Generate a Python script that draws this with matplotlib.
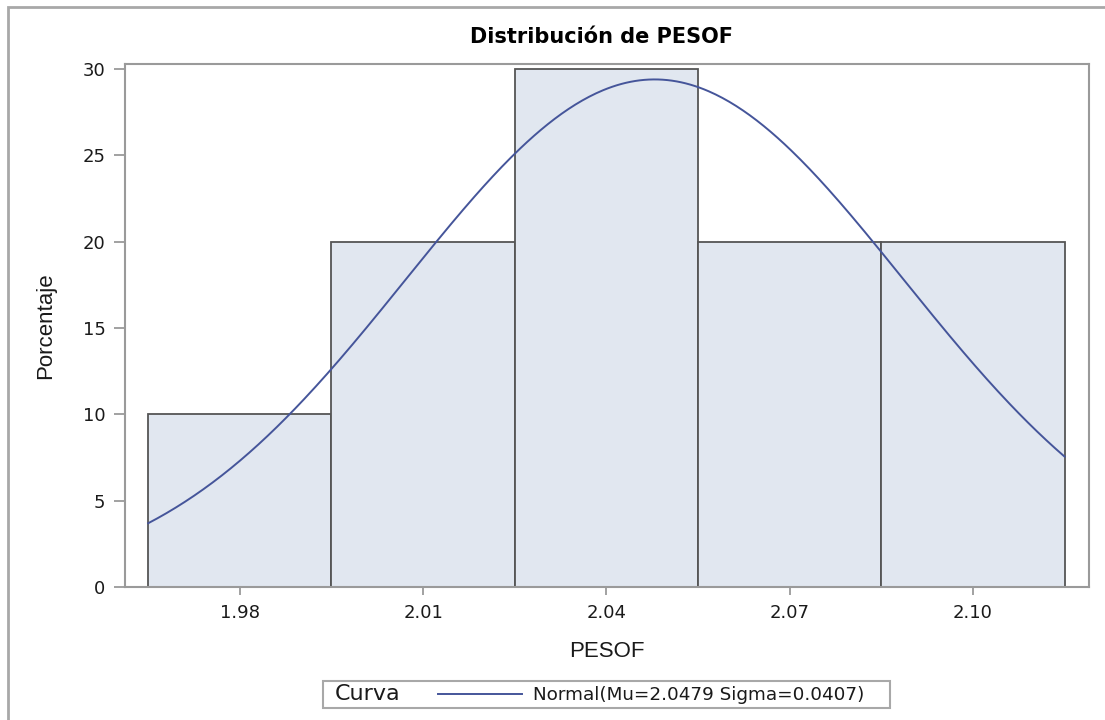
import numpy as np
import matplotlib
matplotlib.use("Agg")
import matplotlib.pyplot as plt
from matplotlib.patches import Rectangle
from matplotlib.lines import Line2D

plt.rcParams['font.family'] = ['DejaVu Sans']

# histogram of PESOF (percent per bin)
bin_mids = [1.98, 2.01, 2.04, 2.07, 2.10]
pct = [10, 20, 30, 20, 20]
bin_w = 0.03
x_ticks = [1.98, 2.01, 2.04, 2.07, 2.10]
y_ticks = [0, 5, 10, 15, 20, 25, 30]

# fitted normal
mu = 2.0479
sigma = 0.0407

W, H = 1105, 720
fig = plt.figure(figsize=(W / 100, H / 100), dpi=100)
ax = fig.add_axes([125 / W, 1 - 587 / H, (1089 - 125) / W, (587 - 64) / H])

fill = '#E1E7F0'
edge = '#555555'
curve_col = '#45559A'
frame = '#9A9A9A'
txt = '#1A1A1A'

ax.bar(bin_mids, pct, width=bin_w, color=fill, edgecolor=edge, linewidth=1.3, zorder=2)

xs = np.linspace(bin_mids[0] - bin_w / 2, bin_mids[-1] + bin_w / 2, 400)
ys = 100 * bin_w * np.exp(-0.5 * ((xs - mu) / sigma) ** 2) / (sigma * np.sqrt(2 * np.pi))
ax.plot(xs, ys, color=curve_col, linewidth=1.4, zorder=3)

ax.set_xlim(1.9612, 2.119)
ax.set_ylim(0, 30.3)
ax.set_xticks(x_ticks)
ax.set_xticklabels(['%.2f' % v for v in x_ticks])
ax.set_yticks(y_ticks)

for s in ax.spines.values():
    s.set_color(frame)
    s.set_linewidth(1.5)
ax.tick_params(axis='x', length=6, width=1.3, color=frame, labelsize=13, pad=6, labelcolor=txt)
ax.tick_params(axis='y', length=8, width=1.3, color=frame, labelsize=13, pad=6, labelcolor=txt)

ax.set_xlabel('PESOF', fontsize=16, family='Liberation Sans', labelpad=14, color=txt)
ax.set_ylabel('Porcentaje', fontsize=16, family='Liberation Sans', labelpad=19, color=txt)
fig.text(601 / W, 1 - 37 / H, 'Distribución de PESOF', fontsize=15, fontweight='bold',
         ha='center', va='center', color='black')

# outer border around the graph
fig.patches.append(Rectangle((8 / W, -0.05), 1.2, 1.05 - 7 / H, transform=fig.transFigure,
                             fill=False, edgecolor='#A8A8A8', linewidth=2))

# legend box
fig.patches.append(Rectangle((323 / W, 1 - 708 / H), (890 - 323) / W, 27 / H,
                             transform=fig.transFigure, facecolor='white',
                             edgecolor='#A8A8A8', linewidth=1.5))
fig.text(335 / W, 1 - 694.5 / H, 'Curva', fontsize=16, va='center', ha='left', color=txt)
fig.lines.append(Line2D([438 / W, 522 / W], [1 - 694 / H, 1 - 694 / H],
                        transform=fig.transFigure, color=curve_col, linewidth=1.4))
fig.text(533 / W, 1 - 694.5 / H, 'Normal(Mu=%.4f Sigma=%.4f)' % (mu, sigma),
         fontsize=13.25, va='center', ha='left', color=txt)

fig.savefig('out.png', dpi=100)
